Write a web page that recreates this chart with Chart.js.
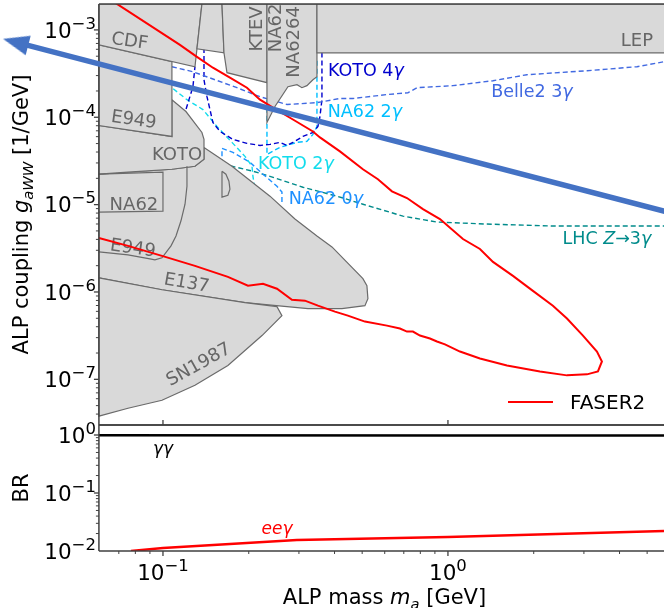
<!DOCTYPE html>
<html>
<head>
<meta charset="utf-8">
<title>ALP coupling reach</title>
<script src="https://cdn.jsdelivr.net/npm/chart.js@4.4.1/dist/chart.umd.min.js"></script>
<style>
  html, body { margin: 0; padding: 0; background: #fff; }
  #fig { position: relative; width: 664px; height: 608px; overflow: hidden; }
  #fig canvas { position: absolute; left: 0; }
  #couplingChart { top: 0; }
  #brChart { top: 410px; }
</style>
</head>
<body>
<div id="fig">
  <canvas id="couplingChart" width="664" height="430"></canvas>
  <canvas id="brChart" width="664" height="198"></canvas>
</div>
<script>
// ---- axis ranges ----
// the canvas spans massMin..massMax, the axes frame starts at massAxisMin
const massMin = 0.0268, massMax = 5.73, massAxisMin = 0.0596;
const couplingMin = 3.15e-8, couplingMax = 1.98e-3;
const brMin = 0.01, brMax = 1.487;
const massTicks = [0.1, 1];
const couplingTicks = [1e-7, 1e-6, 1e-5, 1e-4, 1e-3];
const brTicks = [0.01, 0.1, 1];

// ---- excluded regions [m_a (GeV), g_aWW (1/GeV)] ----
const cdf = [[0.0596,1.98e-3],[0.137,1.98e-3],[0.1316,6.07e-4],[0.1295,3.79e-4],[0.0596,6.74e-4],[0.0596,1.98e-3]];
const tower = [[0.137,1.98e-3],[0.1611,1.98e-3],[0.1637,5.47e-4],[0.1316,6.07e-4],[0.137,1.98e-3]];
const ktev = [[0.1611,1.98e-3],[0.2317,1.98e-3],[0.2317,2.49e-4],[0.1677,3.24e-4],[0.1637,5.47e-4],[0.1611,1.98e-3]];
const na62Top = [[0.2317,1.98e-3],[0.347,1.98e-3],[0.347,2.91e-4],[0.3359,2.69e-4],[0.32,2.30e-4],[0.3073,2.18e-4],[0.2953,2.36e-4],[0.2745,2.24e-4],[0.2472,1.33e-4],[0.2317,8.71e-5],[0.2317,1.98e-3]];
const lep = [[0.347,1.98e-3],[7,1.98e-3],[7,5.47e-4],[0.347,5.47e-4],[0.347,1.98e-3]];
const e949Up = [[0.0596,6.74e-4],[0.1075,4.32e-4],[0.1075,6.03e-5],[0.0596,8.05e-5],[0.0596,6.74e-4]];
const koto = [[0.0596,8.05e-5],[0.1075,6.03e-5],[0.1075,1.59e-4],[0.1204,1.163e-4],[0.137,6.70e-5],[0.1393,5.58e-5],[0.1393,3.30e-5],[0.1295,2.75e-5],[0.1075,2.54e-5],[0.0754,2.35e-5],[0.0596,2.23e-5],[0.0596,8.05e-5]];
const kaonBeamDump = [[0.1393,4.52e-5],[0.1746,2.75e-5],[0.2374,1.25e-5],[0.2905,6.84e-6],[0.347,4.38e-6],[0.3917,3.28e-6],[0.5031,1.42e-6],[0.5196,1.18e-6],[0.5238,8.37e-7],[0.5113,6.97e-7],[0.4246,6.45e-7],[0.3227,6.45e-7],[0.194,7.54e-7],[0.0992,1.06e-6],[0.0596,1.45e-6],[0.0596,2.23e-5],[0.0754,2.35e-5],[0.1075,2.54e-5],[0.1295,2.75e-5],[0.1393,3.30e-5],[0.1393,4.52e-5]];
const na62Box = [[0.0596,2.23e-5],[0.1,2.35e-5],[0.1,8.43e-6],[0.0596,8.21e-6]];
const e949Low = [[0.1214,2.75e-5],[0.1214,1.62e-5],[0.1195,1.01e-5],[0.1156,6.49e-6],[0.1111,4.38e-6],[0.1067,3.37e-6],[0.0992,2.46e-6],[0.0937,2.33e-6],[0.09,2.39e-6],[0.0754,2.66e-6],[0.0596,2.88e-6]];
const dShape = [[0.1611,2.41e-5],[0.1663,2.23e-5],[0.1704,1.85e-5],[0.1718,1.50e-5],[0.169,1.28e-5],[0.1611,1.22e-5],[0.1611,2.41e-5]];
const sn1987 = [[0.0596,1.45e-6],[0.0992,1.06e-6],[0.194,7.54e-7],[0.2512,6.79e-7],[0.2615,5.36e-7],[0.2226,3.17e-7],[0.169,1.44e-7],[0.1295,8.54e-8],[0.0992,5.76e-8],[0.0754,4.67e-8],[0.0596,3.79e-8],[0.0596,1.45e-6]];

// ---- projected sensitivities (dashed) ----
const belle2 = [[0.1075,3.79e-4],[0.1274,3.32e-4],[0.1522,2.69e-4],[0.1818,2.18e-4],[0.219,1.72e-4],[0.2723,1.40e-4],[0.347,1.47e-4],[0.4178,1.64e-4],[0.4642,1.64e-4],[0.6109,1.82e-4],[0.724,1.91e-4],[0.7786,2.18e-4],[1.041,2.30e-4],[1.439,2.62e-4],[1.893,3.07e-4],[3.075,3.41e-4],[4.605,3.79e-4],[5.73,4.32e-4]];
const koto4gLeft = [[0.1166,8.27e-5],[0.1195,1.132e-4],[0.1274,2.24e-4],[0.1295,3.79e-4]];
const koto4gRight = [[0.1393,7.69e-4],[0.1393,2.69e-4],[0.1427,1.72e-4],[0.1462,1.225e-4],[0.1497,8.71e-5],[0.1585,6.88e-5],[0.176,5.58e-5],[0.1971,5.02e-5],[0.219,4.76e-5],[0.2374,4.89e-5],[0.2573,5.16e-5],[0.2723,4.76e-5],[0.2858,5.16e-5],[0.3098,6.03e-5],[0.3359,6.70e-5],[0.3498,7.84e-5],[0.3555,1.02e-4],[0.3613,1.59e-4],[0.3613,7.69e-4]];
const koto2g = [[0.0976,2.69e-4],[0.1075,2.18e-4],[0.1214,1.59e-4],[0.1381,1.225e-4],[0.1547,7.84e-5],[0.1746,5.16e-5],[0.194,3.57e-5],[0.2053,2.75e-5],[0.2069,2.11e-5],[0.2103,1.50e-5]];
const na62_2g = [[0.2317,1.59e-4],[0.2317,3.76e-5],[0.2573,4.52e-5],[0.2953,5.16e-5],[0.32,5.29e-5],[0.3359,6.36e-5],[0.347,7.84e-5],[0.347,2.84e-4],[0.347,4.55e-4]];
const na62_0g = [[0.1611,2.89e-5],[0.1611,4.40e-5],[0.176,3.97e-5],[0.202,3.05e-5],[0.2244,2.23e-5],[0.2512,1.62e-5],[0.2615,1.39e-5],[0.2615,1.01e-5]];
const lhcZ3g = [[0.1522,3.05e-5],[0.1746,2.75e-5],[0.2069,2.41e-5],[0.2374,2.11e-5],[0.3098,1.58e-5],[0.4078,1.25e-5],[0.5031,1.01e-5],[0.6952,7.39e-6],[0.915,6.32e-6],[1.37,5.99e-6],[2.335,5.69e-6],[5.73,5.69e-6]];

// ---- FASER2 contour ----
const faser2 = [[0.0657,2.197e-3],[0.0976,9.49e-4],[0.1147,6.74e-4],[0.1316,4.92e-4],[0.1497,3.69e-4],[0.1718,2.84e-4],[0.1971,2.18e-4],[0.219,1.59e-4],[0.2432,1.29e-4],[0.2858,9.43e-5],[0.3359,6.88e-5],[0.3555,5.88e-5],[0.4178,4.07e-5],[0.5031,2.54e-5],[0.5679,1.95e-5],[0.6361,1.42e-5],[0.7181,1.19e-5],[0.8172,8.89e-6],[0.9374,6.84e-6],[1.129,4.04e-6],[1.295,3.11e-6],[1.439,2.21e-6],[1.691,1.53e-6],[1.987,1.03e-6],[2.335,6.97e-7],[2.616,4.96e-7],[2.977,3.17e-7],[3.333,2.08e-7],[3.47,1.60e-7],[3.36,1.23e-7],[3.075,1.14e-7],[2.616,1.11e-7],[2.103,1.23e-7],[1.611,1.44e-7],[1.295,1.73e-7],[1.102,2.08e-7],[0.9761,2.51e-7],[0.915,2.71e-7],[0.8647,2.93e-7],[0.7976,3.17e-7],[0.7536,3.52e-7],[0.7181,3.52e-7],[0.6784,3.81e-7],[0.6109,4.12e-7],[0.5113,4.58e-7],[0.4455,5.36e-7],[0.4013,5.96e-7],[0.3498,6.97e-7],[0.3149,7.95e-7],[0.2835,8.16e-7],[0.2512,1.09e-6],[0.2244,1.24e-6],[0.1987,1.18e-6],[0.169,1.49e-6],[0.1295,1.99e-6],[0.0992,2.59e-6],[0.0754,3.37e-6],[0.0596,4.15e-6]];

// ---- overlaid arrow ----
const arrowShaft = [[0.03209,6.91e-4],[0.1,2.63e-4],[7,7.09e-6]];
const arrowTip = [[0.0304,7.24e-4]];

// ---- branching ratios ----
const brGammaGamma = [[0.0596,0.99],[1,0.983],[5.73,0.978]];
const brEEGamma = [[0.0772,0.0100],[0.1,0.01127],[0.295,0.01548],[1,0.0174],[5.73,0.0221]];

// ---- styles ----
const FONT = '"DejaVu Sans", sans-serif';
const regionFill = '#d9d9d9', regionEdge = '#6b6b6b', labelGrey = '#666666';
const spineColor = '#404040';
const colors = {
  koto4g: '#0000cd', belle2: '#4169e1', na62_2g: '#00bfff',
  koto2g: '#12dcec', na62_0g: '#1e90ff', lhc: '#008b8b',
  faser: '#ff0000', arrow: '#4472c4'
};

const toPts = arr => arr.map(([x, y]) => ({ x, y }));

function region(label, data, order) {
  return { label, data: toPts(data), showLine: true, fill: 'shape', backgroundColor: regionFill,
    borderColor: regionEdge, borderWidth: 1.2, pointRadius: 0, order };
}
function outline(label, data, order) {
  return { label, data: toPts(data), showLine: true, fill: false,
    borderColor: regionEdge, borderWidth: 1.2, pointRadius: 0, order };
}
function dashed(label, data, color) {
  return { label, data: toPts(data), showLine: true, fill: false, borderColor: color,
    borderWidth: 1.4, borderDash: [5, 3], pointRadius: 0, order: 30 };
}

function arrowHead(color) {
  const c = document.createElement('canvas');
  c.width = 26; c.height = 20;
  const g = c.getContext('2d');
  g.fillStyle = color;
  g.beginPath(); g.moveTo(0, 0); g.lineTo(26, 10); g.lineTo(0, 20); g.closePath(); g.fill();
  return c;
}

// text with italic / sub / superscript pieces
function richText(ctx, parts, x, y, o) {
  const size = o.size, small = o.small || size * 0.7;
  const fontOf = p => (p.it ? 'italic ' : '') + ((p.sub || p.sup) ? small : size) + 'px ' + FONT;
  const widths = parts.map(p => { ctx.font = fontOf(p); return ctx.measureText(p.t).width; });
  const total = widths.reduce((s, w) => s + w, 0);
  ctx.save();
  ctx.translate(x, y);
  if (o.rot) ctx.rotate(o.rot * Math.PI / 180);
  ctx.fillStyle = o.color || '#000';
  ctx.textAlign = 'left';
  ctx.textBaseline = 'alphabetic';
  let cx = o.align === 'right' ? -total : o.align === 'left' ? 0 : -total / 2;
  const base = o.middle ? size * 0.36 : 0;
  parts.forEach((p, i) => {
    ctx.font = fontOf(p);
    const dy = p.sub ? size * 0.22 : p.sup ? -size * 0.42 : 0;
    ctx.fillText(p.t, cx, base + dy);
    cx += widths[i];
  });
  ctx.restore();
}

function powerLabel(v) {
  const e = Math.round(Math.log10(v));
  return [{ t: '10' }, { t: (e < 0 ? '\u2212' : '') + Math.abs(e), sup: true }];
}

function line(ctx, x1, y1, x2, y2) {
  ctx.beginPath(); ctx.moveTo(x1, y1); ctx.lineTo(x2, y2); ctx.stroke();
}

const tickFont = { size: 21.5, small: 16.5 };

// log ticks on the left spine, labels on the decades
function leftTicks(ctx, scale, left, majors) {
  const lo = Math.floor(Math.log10(scale.min)), hi = Math.ceil(Math.log10(scale.max));
  ctx.strokeStyle = spineColor;
  for (let e = lo; e <= hi; e++) {
    for (let k = 1; k < 10; k++) {
      const v = k * Math.pow(10, e);
      if (v < scale.min * 1.001 || v > scale.max * 0.999) continue;
      const py = scale.getPixelForValue(v);
      ctx.lineWidth = k === 1 ? 1.3 : 1;
      line(ctx, left - (k === 1 ? 5 : 3), py, left, py);
    }
  }
  majors.forEach(v => {
    richText(ctx, powerLabel(v), left - 3, scale.getPixelForValue(v),
      { ...tickFont, align: 'right', middle: true });
  });
}

const regionLabels = [
  { text: 'CDF', at: [0.0766, 7.69e-4], rot: 8 },
  { text: 'E949', at: [0.0791, 9.68e-5], rot: 8 },
  { text: 'KOTO', at: [0.112, 3.86e-5] },
  { text: 'NA62', at: [0.0791, 1.04e-5] },
  { text: 'E949', at: [0.0785, 3.28e-6], rot: 8 },
  { text: 'E137', at: [0.1214, 1.31e-6], rot: 10 },
  { text: 'SN1987', at: [0.1327, 1.52e-7], rot: -29 },
  { text: 'LEP', at: [4.605, 7.69e-4] },
  { text: 'KTEV', at: [0.212, 1.026e-3], rot: -90 },
  { text: 'NA62', at: [0.2472, 1.054e-3], rot: -90 },
  { text: 'NA6264', at: [0.2858, 7.30e-4], rot: -90 }
];
const curveLabels = [
  { parts: [{ t: 'KOTO 4' }, { t: '\u03b3', it: true }], at: [0.5154, 3.5e-4], color: colors.koto4g },
  { parts: [{ t: 'Belle2 3' }, { t: '\u03b3', it: true }], at: [1.971, 2.02e-4], color: colors.belle2 },
  { parts: [{ t: 'NA62 2' }, { t: '\u03b3', it: true }], at: [0.5113, 1.19e-4], color: colors.na62_2g },
  { parts: [{ t: 'KOTO 2' }, { t: '\u03b3', it: true }], at: [0.2928, 3.05e-5], color: colors.koto2g },
  { parts: [{ t: 'NA62 0' }, { t: '\u03b3', it: true }], at: [0.373, 1.19e-5], color: colors.na62_0g },
  { parts: [{ t: 'LHC ' }, { t: 'Z', it: true }, { t: '\u21923' }, { t: '\u03b3', it: true }], at: [3.613, 4.15e-6], color: colors.lhc }
];

function drawRegionLabels(chart) {
  const { ctx, scales: { x, y } } = chart;
  regionLabels.forEach(l => {
    richText(ctx, [{ t: l.text }], x.getPixelForValue(l.at[0]), y.getPixelForValue(l.at[1]),
      { size: 18, color: labelGrey, rot: l.rot, middle: true });
  });
  curveLabels.forEach(l => {
    richText(ctx, l.parts, x.getPixelForValue(l.at[0]), y.getPixelForValue(l.at[1]),
      { size: 17.5, color: l.color, middle: true });
  });
}

function drawCouplingAxes(chart) {
  const { ctx, chartArea: a, scales: { x, y } } = chart;
  const left = x.getPixelForValue(massAxisMin);
  ctx.save();
  ctx.strokeStyle = spineColor;
  ctx.lineWidth = 1.5;
  ctx.beginPath();
  ctx.moveTo(left, a.top); ctx.lineTo(left, a.bottom);
  ctx.moveTo(left, a.top); ctx.lineTo(a.right, a.top);
  ctx.moveTo(left, a.bottom); ctx.lineTo(a.right, a.bottom);
  ctx.stroke();
  leftTicks(ctx, y, left, couplingTicks);
  ctx.lineWidth = 1.3;
  massTicks.forEach(v => { const px = x.getPixelForValue(v); line(ctx, px, a.bottom - 5, px, a.bottom); });
  richText(ctx, [{ t: 'ALP coupling ' }, { t: 'g', it: true }, { t: 'aWW', it: true, sub: true }, { t: ' [1/GeV]' }],
    28, (a.top + a.bottom) / 2, { size: 21, rot: -90 });
  // legend
  const lx = a.right - 156, ly = a.bottom - 23;
  ctx.strokeStyle = colors.faser; ctx.lineWidth = 2;
  line(ctx, lx, ly, lx + 45, ly);
  richText(ctx, [{ t: 'FASER2' }], lx + 62, ly, { size: 20, align: 'left', middle: true });
  ctx.restore();
}

const couplingDecor = {
  id: 'couplingDecor',
  beforeDatasetDraw(chart, args) {
    const label = chart.data.datasets[args.index].label;
    if (label === 'FASER2') drawRegionLabels(chart);
    if (label === 'arrow') drawCouplingAxes(chart);
  }
};

const baseOptions = (yMin, yMax, padding) => ({
  responsive: false,
  animation: false,
  events: [],
  layout: { padding, autoPadding: false },
  scales: {
    x: { type: 'logarithmic', min: massMin, max: massMax, display: false },
    y: { type: 'logarithmic', min: yMin, max: yMax, display: false }
  },
  plugins: { legend: { display: false }, tooltip: { enabled: false } }
});

new Chart(document.getElementById('couplingChart'), {
  type: 'scatter',
  data: {
    datasets: [
      { label: 'arrowTip', data: toPts(arrowTip), pointStyle: arrowHead(colors.arrow), pointRadius: 13,
        rotation: 194.7, showLine: false, clip: false, order: 0 },
      { label: 'arrow', data: toPts(arrowShaft), showLine: true, borderColor: colors.arrow, borderWidth: 5.5,
        pointRadius: 0, clip: false, order: 1 },
      { label: 'FASER2', data: toPts(faser2), showLine: true, borderColor: colors.faser, borderWidth: 2,
        pointRadius: 0, order: 2 },
      outline('NA62 box', na62Box, 5),
      outline('E949 low', e949Low, 6),
      outline('D', dShape, 7),
      region('SN1987', sn1987, 8),
      region('LEP', lep, 9),
      region('NA62', na62Top, 10),
      region('KTEV', ktev, 11),
      region('tower', tower, 12),
      region('CDF', cdf, 13),
      region('E949', e949Up, 14),
      region('KOTO', koto, 15),
      region('E137', kaonBeamDump, 16),
      dashed('Belle2 3g', belle2, colors.belle2),
      dashed('KOTO 4g', koto4gLeft, colors.koto4g),
      dashed('KOTO 4g', koto4gRight, colors.koto4g),
      dashed('KOTO 2g', koto2g, colors.koto2g),
      dashed('NA62 2g', na62_2g, colors.na62_2g),
      dashed('NA62 0g', na62_0g, colors.na62_0g),
      dashed('LHC Z3g', lhcZ3g, colors.lhc)
    ]
  },
  options: baseOptions(couplingMin, couplingMax, { left: 0, right: 0, top: 4, bottom: 5 }),
  plugins: [couplingDecor]
});

const brDecor = {
  id: 'brDecor',
  afterDraw(chart) {
    const { ctx, chartArea: a, scales: { x, y } } = chart;
    const left = x.getPixelForValue(massAxisMin);
    ctx.save();
    ctx.strokeStyle = spineColor;
    ctx.lineWidth = 1.5;
    ctx.beginPath();
    ctx.moveTo(left, a.top); ctx.lineTo(left, a.bottom);
    ctx.moveTo(left, a.top); ctx.lineTo(a.right, a.top);
    ctx.moveTo(left, a.bottom); ctx.lineTo(a.right, a.bottom);
    ctx.stroke();
    leftTicks(ctx, y, left, brTicks);
    for (let e = -2; e <= 0; e++) {
      for (let k = 1; k < 10; k++) {
        const v = k * Math.pow(10, e);
        if (v < massAxisMin * 1.02 || v > x.max) continue;
        const px = x.getPixelForValue(v);
        ctx.lineWidth = k === 1 ? 1.3 : 1;
        line(ctx, px, a.bottom, px, a.bottom + (k === 1 ? 5 : 3));
      }
    }
    massTicks.forEach(v => {
      richText(ctx, powerLabel(v), x.getPixelForValue(v), a.bottom + 29, tickFont);
    });
    richText(ctx, [{ t: 'ALP mass ' }, { t: 'm', it: true }, { t: 'a', it: true, sub: true }, { t: ' [GeV]' }],
      (left + a.right) / 2 + 3, a.bottom + 53, { size: 21 });
    richText(ctx, [{ t: 'BR' }], 28, (a.top + a.bottom) / 2, { size: 21, rot: -90 });
    richText(ctx, [{ t: '\u03b3\u03b3', it: true }], x.getPixelForValue(0.1), y.getPixelForValue(0.597),
      { size: 17, middle: true });
    richText(ctx, [{ t: 'ee\u03b3', it: true }], x.getPixelForValue(0.2512), y.getPixelForValue(0.0249),
      { size: 17, color: colors.faser, middle: true });
    ctx.restore();
  }
};

new Chart(document.getElementById('brChart'), {
  type: 'scatter',
  data: {
    datasets: [
      { label: 'gamma gamma', data: toPts(brGammaGamma), showLine: true, borderColor: '#000', borderWidth: 2.5, pointRadius: 0 },
      { label: 'e e gamma', data: toPts(brEEGamma), showLine: true, borderColor: colors.faser, borderWidth: 2.5, pointRadius: 0 }
    ]
  },
  options: baseOptions(brMin, brMax, { left: 0, right: 0, top: 15, bottom: 57 }),
  plugins: [brDecor]
});
</script>
</body>
</html>
